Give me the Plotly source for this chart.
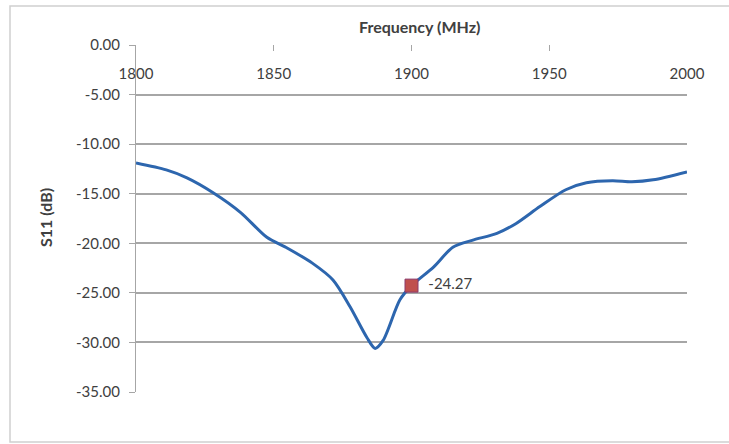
import plotly.graph_objects as go

# Data
freq_mhz = [1800, 1811, 1818.5, 1828, 1838, 1847.5, 1855, 1864, 1871.5, 1877.7,
            1883.8, 1886.8, 1889.7, 1895.8, 1900, 1908, 1915, 1922, 1931, 1938,
            1946.6, 1956, 1963.5, 1973, 1980, 1987.7, 2000]
s11_db = [-11.9, -12.6, -13.4, -14.9, -16.9, -19.4, -20.5, -22.0, -23.7, -26.4,
          -29.5, -30.6, -29.8, -25.7, -24.27, -22.4, -20.4, -19.7, -19.0, -18.0,
          -16.3, -14.6, -13.9, -13.7, -13.8, -13.6, -12.8]
marker_freq = [1900]
marker_val = [-24.27]
marker_label = ["-24.27"]
x_ticks = [1800, 1850, 1900, 1950, 2000]
y_ticks = [0, -5, -10, -15, -20, -25, -30, -35]

W, H = 729, 444
L, R, T, B = 136, 42, 45, 52
pw, ph = W - L - R, H - T - B

def px(x):
    return (x - L) / pw

def py(y):
    return (H - B - y) / ph

FONT = "Lato"
TICK_FONT = dict(family=FONT, size=15, color="#404040")
fig = go.Figure()
fig.add_trace(go.Scatter(
    x=freq_mhz, y=s11_db, mode="lines",
    line=dict(color="#2D66AE", width=3, shape="spline", smoothing=0.8),
    hoverinfo="x+y", showlegend=False))
fig.add_trace(go.Scatter(
    x=marker_freq, y=marker_val, mode="markers+text",
    marker=dict(symbol="square", size=13, color="#C0504D",
                line=dict(color="#8B3A6A", width=1)),
    text=["  " + t for t in marker_label], textposition="middle right",
    textfont=TICK_FONT, showlegend=False))
# invisible trace carrying the tick-label axis
fig.add_trace(go.Scatter(
    x=marker_freq, y=marker_val, xaxis="x2", mode="markers",
    marker=dict(opacity=0), hoverinfo="skip", showlegend=False))

fig.update_layout(
    width=W, height=H,
    margin=dict(l=L, r=R, t=T, b=B),
    paper_bgcolor="white", plot_bgcolor="white",
    font=dict(family=FONT, size=15, color="#404040"),
    xaxis=dict(range=[1800, 2000], side="top", tickvals=x_ticks,
               ticks="inside", ticklen=6, tickcolor="#a6a6a6", tickwidth=1.2,
               showticklabels=False, showgrid=False,
               showline=False, zeroline=False, automargin=False),
    xaxis2=dict(range=[1800, 2000], overlaying="x", anchor="free",
                position=py(63), side="bottom", tickvals=x_ticks,
                ticktext=[str(v) for v in x_ticks], ticks="",
                showgrid=False, showline=False, zeroline=False,
                automargin=False, tickfont=TICK_FONT),
    yaxis=dict(range=[-35, 0], tickvals=y_ticks,
               ticktext=["%.2f" % v for v in y_ticks],
               ticks="outside", ticklen=6, tickcolor="#a6a6a6",
               showgrid=True, gridcolor="#a6a6a6", gridwidth=1.5,
               showline=True, linecolor="#a6a6a6", linewidth=1.2,
               zeroline=False, ticklabelstandoff=6, automargin=False,
               tickfont=TICK_FONT),
    annotations=[
        dict(text="<b>Frequency (MHz)</b>", xref="paper", yref="paper",
             x=px(419), y=py(27), xanchor="center", yanchor="middle",
             showarrow=False,
             font=dict(family=FONT, size=16, color="#404040")),
        dict(text="<b>S11 (dB)</b>", xref="paper", yref="paper",
             x=px(45), y=py(218), xanchor="center", yanchor="middle",
             showarrow=False, textangle=-90,
             font=dict(family=FONT, size=16, color="#404040")),
    ],
    shapes=[
        dict(type="rect", xref="paper", yref="paper",
             x0=px(10), x1=px(745), y0=py(442), y1=py(6),
             line=dict(color="#d0d0d0", width=1.5), layer="below"),
    ],
)
fig.write_html("out.html", config={"displayModeBar": False},
               post_script="document.body.style.margin='0';")
